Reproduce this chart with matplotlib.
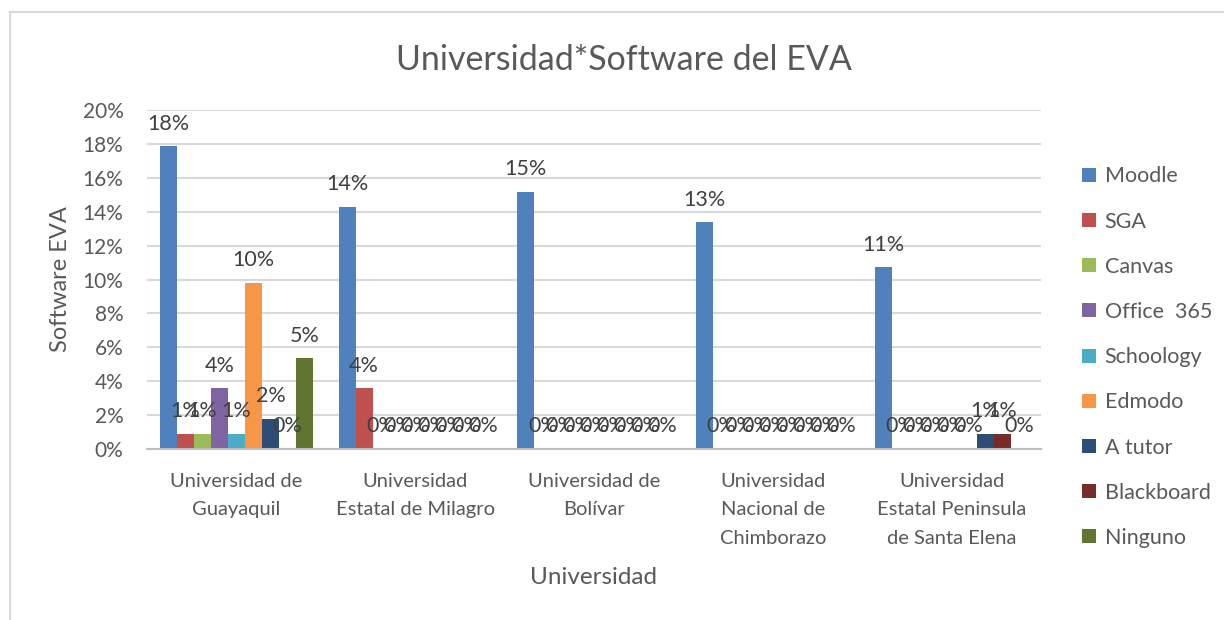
import matplotlib
matplotlib.use("Agg")
import matplotlib.pyplot as plt
from matplotlib.lines import Line2D
from matplotlib.patches import Patch
import numpy as np

plt.rcParams["font.family"] = ["Lato", "DejaVu Sans"]

universidades = [
    "Universidad de\nGuayaquil",
    "Universidad\nEstatal de Milagro",
    "Universidad de\nBolívar",
    "Universidad\nNacional de\nChimborazo",
    "Universidad\nEstatal Peninsula\nde Santa Elena",
]
software = ["Moodle", "SGA", "Canvas", "Office  365", "Schoology",
            "Edmodo", "A tutor", "Blackboard", "Ninguno"]
colores = ["#4F81BD", "#C0504D", "#9BBB59", "#8064A2", "#4BACC6",
           "#F79646", "#2C4D75", "#772C2A", "#5F7530"]

# porcentaje por universidad (filas = software, columnas = universidad)
moodle     = [17.86, 14.29, 15.18, 13.39, 10.71]
sga        = [0.89, 3.57, 0, 0, 0]
canvas     = [0.89, 0, 0, 0, 0]
office365  = [3.57, 0, 0, 0, 0]
schoology  = [0.89, 0, 0, 0, 0]
edmodo     = [9.82, 0, 0, 0, 0]
a_tutor    = [1.79, 0, 0, 0, 0.89]
blackboard = [0, 0, 0, 0, 0.89]
ninguno    = [5.36, 0, 0, 0, 0]
series = [moodle, sga, canvas, office365, schoology, edmodo, a_tutor, blackboard, ninguno]

gris = "#595959"
W, H = 1224, 620
fig = plt.figure(figsize=(W / 100, H / 100), dpi=100)
ax = fig.add_axes([147 / W, 1 - 449 / H, (1041 - 147) / W, (449 - 110) / H])

# marco del grafico
fig.add_artist(Line2D([10 / W, 10 / W], [0, 1 - 12 / H], color="#D9D9D9", lw=1.5))
fig.add_artist(Line2D([10 / W, 1], [1 - 12 / H, 1 - 12 / H], color="#D9D9D9", lw=1.5))

x = np.arange(len(universidades))
w = 0.0952
for j, (nombre, vals, col) in enumerate(zip(software, series, colores)):
    pos = x + (j - 4) * w
    ax.bar(pos, vals, width=w, color=col, label=nombre, zorder=3)
    for px, v in zip(pos, vals):
        ax.annotate(f"{round(v):.0f}%", (px, v), xytext=(0, 9), textcoords="offset points",
                    ha="center", va="bottom", fontsize=15.5, color="#404040", zorder=4)

ax.set_xlim(-0.5, 4.5)
ax.set_ylim(0, 20)
ax.set_yticks(range(0, 21, 2))
ax.set_yticklabels([f"{t}%" for t in range(0, 21, 2)])
ax.set_xticks(x)
ax.set_xticklabels(universidades, linespacing=1.82)
ax.tick_params(axis="y", length=0, labelsize=15, colors=gris, pad=17)
ax.tick_params(axis="x", length=0, labelsize=14.5, colors=gris, pad=17)
ax.grid(axis="y", color="#D9D9D9", lw=1.5, zorder=0)
for s in ["top", "right", "left"]:
    ax.spines[s].set_visible(False)
ax.spines["bottom"].set_color("#BFBFBF")
ax.spines["bottom"].set_linewidth(1.5)
ax.spines["bottom"].set_zorder(5)

ax.set_ylabel("Software EVA", fontsize=17, color=gris, labelpad=8)
fig.text(594 / W, 1 - 578 / H, "Universidad", fontsize=17.5, color=gris, ha="center", va="center")
fig.text(624 / W, 1 - 60 / H, "Universidad*Software del EVA", fontsize=24.5, color=gris,
         ha="center", va="center")

handles = [Patch(facecolor=c, edgecolor="none") for c in colores]
fig.legend(handles, software, loc="upper left", bbox_to_anchor=(1063 / W, 1 - 147 / H),
           frameon=False, fontsize=15.5, labelcolor=gris, handlelength=0.63, handleheight=0.63,
           handletextpad=0.4, labelspacing=1.17)

fig.savefig("out.png", dpi=100)
